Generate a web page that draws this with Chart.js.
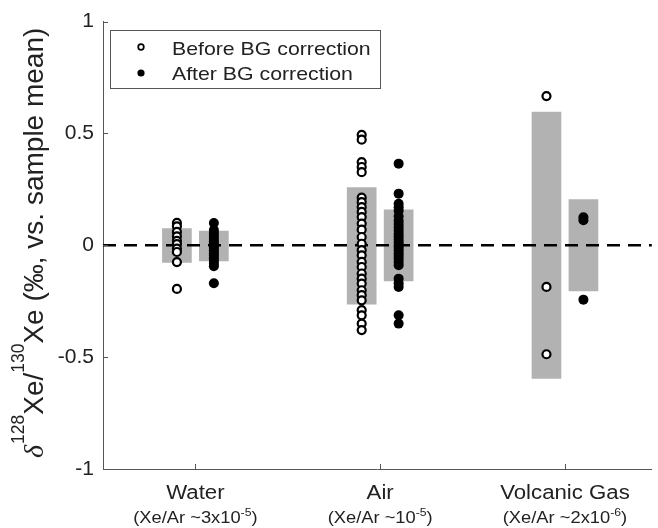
<!DOCTYPE html>
<html>
<head>
<meta charset="utf-8">
<script src="https://cdn.jsdelivr.net/npm/chart.js@4.4.1/dist/chart.umd.min.js"></script>
<style>
  html, body { margin: 0; padding: 0; background: #fff; }
  #wrap { width: 658px; height: 528px; position: relative; }
</style>
</head>
<body>
<div id="wrap"><canvas id="xeChart"></canvas></div>
<script>
// sample groups and their Xe/Ar notes
const categories = ['Water', 'Air', 'Volcanic Gas'];
const xeArBase = ['(Xe/Ar ~3x10', '(Xe/Ar ~10', '(Xe/Ar ~2x10'];
const xeArExp = ['-5', '-5', '-6'];
const seriesNames = ['Before BG correction', 'After BG correction'];
const yTickLabels = { '-1': '-1', '-0.5': '-0.5', '0': '0', '0.5': '0.5', '1': '1' };

// d128Xe/130Xe per run, permil vs. sample mean
const beforeWater = [0.10, 0.085, 0.06, 0.04, 0.02, 0.005, -0.015, -0.03, -0.075, -0.195];
const afterWater = [0.10, 0.068, 0.055, 0.042, 0.03, 0.018, 0.008, -0.003, -0.012, -0.022,
  -0.035, -0.046, -0.058, -0.07, -0.082, -0.094, -0.17];
const beforeAir = [0.494, 0.472, 0.372, 0.35, 0.327, 0.213, 0.193, 0.171, 0.149, 0.126,
  0.097, 0.07, 0.037, 0.007, -0.022, -0.045, -0.074, -0.097, -0.126, -0.149,
  -0.171, -0.201, -0.223, -0.246, -0.29, -0.313, -0.35, -0.379];
const afterAir = [0.365, 0.231, 0.186, 0.17, 0.155, 0.13, 0.11, 0.095, 0.08, 0.065,
  0.05, 0.038, 0.025, 0.012, 0.0, -0.01, -0.022, -0.035, -0.048, -0.06,
  -0.075, -0.089, -0.149, -0.17, -0.186, -0.313, -0.35];
const beforeVolcanic = [0.667, -0.186, -0.487];
const afterVolcanic = [0.125, 0.112, -0.243];

// 2 sigma spread (grey boxes)
const beforeRange = [[-0.077, 0.075], [-0.263, 0.258], [-0.595, 0.595]];
const afterRange = [[-0.070, 0.064], [-0.159, 0.159], [-0.204, 0.204]];

const OFFSET = 0.1;
const axisColor = '#555';
const textColor = '#222';
const fontFamily = '"Liberation Sans", Arial, sans-serif';
Chart.defaults.font.family = fontFamily;

function toPoints(groups, shift) {
  const pts = [];
  groups.forEach((vals, i) => vals.forEach(v => pts.push({ x: i + 1 + shift, y: v })));
  return pts;
}
function toBars(ranges, shift) {
  return ranges.map((r, i) => ({ x: i + 1 + shift, y: r }));
}

// stretched text helper
function putText(ctx, str, x, y, size, sx, opts) {
  ctx.save();
  ctx.translate(x, y);
  ctx.scale(sx, 1);
  ctx.font = (opts && opts.style ? opts.style + ' ' : '') + size + 'px ' + ((opts && opts.family) || fontFamily);
  ctx.textAlign = 'left';
  ctx.textBaseline = 'alphabetic';
  ctx.fillText(str, 0, 0);
  const w = ctx.measureText(str).width * sx;
  ctx.restore();
  return w;
}
function textWidth(ctx, str, size, sx) {
  ctx.save();
  ctx.font = size + 'px ' + fontFamily;
  const w = ctx.measureText(str).width * sx;
  ctx.restore();
  return w;
}

const decor = {
  id: 'xeDecor',
  afterDraw(chart) {
    const { ctx, chartArea } = chart;
    const x = chart.scales.x, y = chart.scales.y;
    ctx.save();
    ctx.fillStyle = textColor;

    // inward tick marks
    ctx.strokeStyle = axisColor;
    ctx.lineWidth = 1;
    ctx.beginPath();
    y.ticks.forEach(t => {
      const py = Math.round(y.getPixelForValue(t.value)) + 0.5;
      ctx.moveTo(chartArea.left, py);
      ctx.lineTo(chartArea.left + 5, py);
    });
    categories.forEach((c, i) => {
      const px = Math.round(x.getPixelForValue(i + 1)) + 0.5;
      ctx.moveTo(px, chartArea.bottom);
      ctx.lineTo(px, chartArea.bottom - 5);
    });
    ctx.stroke();

    // category labels with Xe/Ar notes
    const sx = 1.11;
    categories.forEach((c, i) => {
      const cx = x.getPixelForValue(i + 1);
      const w1 = textWidth(ctx, c, 20, sx);
      putText(ctx, c, cx - w1 / 2, chartArea.bottom + 30, 20, sx);
      const wb = textWidth(ctx, xeArBase[i], 16.5, sx);
      const we = textWidth(ctx, xeArExp[i], 11, sx);
      const wc = textWidth(ctx, ')', 16.5, sx);
      let cur = cx - (wb + we + wc) / 2;
      cur += putText(ctx, xeArBase[i], cur, chartArea.bottom + 54, 16.5, sx);
      cur += putText(ctx, xeArExp[i], cur, chartArea.bottom + 47, 11, sx);
      putText(ctx, ')', cur, chartArea.bottom + 54, 16.5, sx);
    });

    // y axis title
    ctx.save();
    ctx.translate(43, 458);
    ctx.rotate(-Math.PI / 2);
    let cur = 0;
    cur += putText(ctx, '\u03B4', cur, 0, 28, 1, { style: 'italic', family: '"Liberation Serif", serif' });
    cur += putText(ctx, '128', cur + 1, -19, 17.5, 1);
    cur += putText(ctx, 'Xe/', cur + 1, 0, 28, 1);
    cur += putText(ctx, '130', cur + 1, -19, 17.5, 1);
    putText(ctx, 'Xe (\u2030, vs. sample mean)', cur + 1, 0, 28, 1);
    ctx.restore();

    // legend box
    ctx.fillStyle = '#fff';
    ctx.fillRect(110, 30, 270, 58);
    ctx.strokeStyle = axisColor;
    ctx.strokeRect(110.5, 30.5, 270, 58);
    ctx.beginPath();
    ctx.arc(141, 47, 2.8, 0, Math.PI * 2);
    ctx.fillStyle = '#fff';
    ctx.fill();
    ctx.lineWidth = 1.7;
    ctx.strokeStyle = '#000';
    ctx.stroke();
    ctx.beginPath();
    ctx.arc(141, 73, 3.6, 0, Math.PI * 2);
    ctx.fillStyle = '#000';
    ctx.fill();
    ctx.fillStyle = textColor;
    putText(ctx, seriesNames[0], 172, 55, 19, 1.12);
    putText(ctx, seriesNames[1], 172, 80, 19, 1.12);
    ctx.restore();
  }
};

new Chart(document.getElementById('xeChart'), {
  type: 'bar',
  data: {
    datasets: [
      {
        type: 'scatter',
        label: seriesNames[0],
        data: toPoints([beforeWater, beforeAir, beforeVolcanic], -OFFSET),
        pointRadius: 4,
        pointBorderWidth: 2.2,
        pointBackgroundColor: '#fff',
        pointBorderColor: '#000',
        order: 1
      },
      {
        type: 'scatter',
        label: seriesNames[1],
        data: toPoints([afterWater, afterAir, afterVolcanic], OFFSET),
        pointRadius: 5,
        pointBorderWidth: 0,
        pointBackgroundColor: '#000',
        pointBorderColor: '#000',
        order: 1
      },
      {
        type: 'line',
        label: 'zero',
        data: [{ x: 0.5, y: 0 }, { x: 3.6, y: 0 }],
        borderColor: '#000',
        borderWidth: 2.5,
        borderDash: [13, 8],
        pointRadius: 0,
        order: 2
      },
      {
        label: 'before range',
        data: toBars(beforeRange, -OFFSET),
        backgroundColor: '#b2b2b2',
        barThickness: 29,
        grouped: false,
        order: 3
      },
      {
        label: 'after range',
        data: toBars(afterRange, OFFSET),
        backgroundColor: '#b2b2b2',
        barThickness: 29,
        grouped: false,
        order: 3
      }
    ]
  },
  options: {
    responsive: true,
    maintainAspectRatio: false,
    animation: false,
    layout: { padding: { left: 0, right: 0, top: 21, bottom: 59 } },
    plugins: {
      legend: { display: false },
      tooltip: { enabled: false }
    },
    scales: {
      x: {
        type: 'linear',
        min: 0.5,
        max: 3.47,
        offset: false,
        grid: { drawOnChartArea: false, drawTicks: false },
        border: { color: axisColor, width: 1 },
        ticks: { display: false },
        afterFit(scale) { scale.height = 0; }
      },
      y: {
        min: -1,
        max: 1,
        grid: { drawOnChartArea: false, drawTicks: false },
        border: { color: axisColor, width: 1 },
        ticks: {
          stepSize: 0.5,
          padding: 9,
          color: textColor,
          font: { size: 21 },
          callback: v => yTickLabels[String(v)]
        },
        afterFit(scale) { scale.width = 103; }
      }
    }
  },
  plugins: [decor]
});
</script>
</body>
</html>
